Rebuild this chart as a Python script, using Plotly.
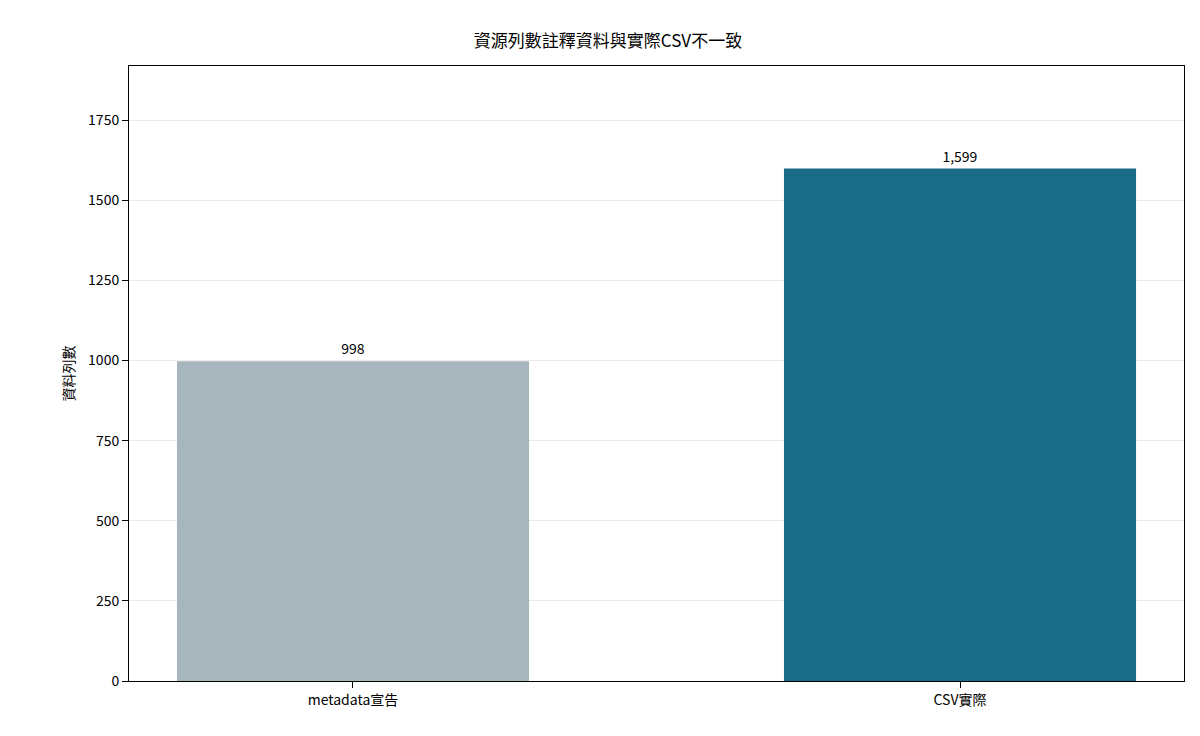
import plotly.graph_objects as go

categories = ["metadata宣告", "CSV實際"]
row_counts = [998, 1599]
bar_colors = ["#a7b6bd", "#1a6b87"]
y_ticks = [0, 250, 500, 750, 1000, 1250, 1500, 1750]

FONT = "Noto Sans CJK TC"

fig = go.Figure(
    go.Bar(
        x=[0, 1],
        y=row_counts,
        width=0.58,
        marker=dict(color=bar_colors, line=dict(width=0)),
        text=[f"{v:,}" for v in row_counts],
        textposition="outside",
        textfont=dict(size=14, color="black"),
        cliponaxis=False,
    )
)

fig.update_layout(
    width=1200,
    height=736,
    margin=dict(l=121, r=24, t=58, b=63),
    paper_bgcolor="white",
    plot_bgcolor="white",
    font=dict(family=FONT, size=14, color="black"),
    title=dict(text="資源列數註釋資料與實際CSV不一致", x=0.5, xanchor="center",
               y=0.955, yanchor="middle", font=dict(size=17)),
    showlegend=False,
    xaxis=dict(
        range=[-0.369, 1.369],
        tickvals=[0, 1],
        ticktext=categories,
        showgrid=False,
        showline=True, linecolor="black", linewidth=1, mirror=True,
        ticks="outside", ticklen=6, tickcolor="black",
        zeroline=False,
    ),
    yaxis=dict(
        title=dict(text="資料列數", font=dict(size=14), standoff=10),
        range=[0, 1919],
        tickvals=y_ticks,
        showgrid=True, gridcolor="rgba(0,0,0,0.08)", gridwidth=1,
        showline=True, linecolor="black", linewidth=1, mirror=True,
        ticks="outside", ticklen=6, tickcolor="black",
        zeroline=False,
    ),
)

fig.write_html("out.html")
